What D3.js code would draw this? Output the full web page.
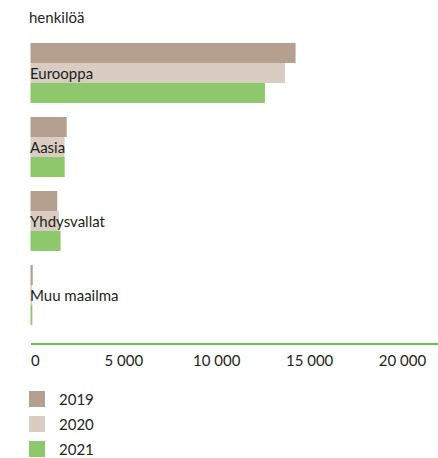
<!DOCTYPE html>
<html><head><meta charset="utf-8">
<script src="https://cdn.jsdelivr.net/npm/d3@7"></script>
<style>body{margin:0;background:#fff}svg{display:block}text{font-family:Lato,"Noto Sans",sans-serif;fill:#231f20}</style>
</head><body><div id="c"></div>
<script>
const categories = ["Eurooppa","Aasia","Yhdysvallat","Muu maailma"];
const years = ["2019","2020","2021"];
const v2019 = [14270, 1950, 1440, 120];
const v2020 = [13700, 1830, 1530, 80];
const v2021 = [12620, 1840, 1620, 100];
const tickValues = [0, 5000, 10000, 15000, 20000];
const colors = ["#b5a090","#d9ccc3","#8dc96c"];
const series = [v2019, v2020, v2021];

const W = 438, H = 458;
const svg = d3.select("#c").append("svg").attr("width", W).attr("height", H);
const x = d3.scaleLinear().domain([0, 20000]).range([30.5, 402]);
const y0 = d3.scaleBand().domain(categories).range([43, 325]).paddingInner(14/74).paddingOuter(0);
const y1 = d3.scaleBand().domain(years).range([0, y0.bandwidth()]);

svg.append("text").attr("x", 29).attr("y", 23).attr("font-size", 15).text("henkilöä");

const g = svg.append("g");
categories.forEach((c, i) => {
  years.forEach((yr, j) => {
    g.append("rect").attr("x", x(0)).attr("y", y0(c) + y1(yr))
      .attr("width", Math.max(0, x(series[j][i]) - x(0))).attr("height", y1.bandwidth())
      .attr("fill", colors[j]);
  });
  g.append("text").attr("x", 30).attr("y", y0(c) + y1("2020") + y1.bandwidth()/2 + 6)
    .attr("font-size", 15).text(c);
});

svg.append("line").attr("x1", 31).attr("x2", W).attr("y1", 344).attr("y2", 344)
  .attr("stroke", "#6cbe45").attr("stroke-width", 2.2);

const axis = d3.axisBottom(x).tickValues(tickValues).tickSize(0).tickPadding(0)
  .tickFormat(d => d3.format(",")(d).replace(/,/g, " "));
const ag = svg.append("g").attr("transform", "translate(0,353)").call(axis);
ag.select(".domain").remove();
ag.selectAll("text").attr("font-size", 15).attr("font-family", "Lato").attr("fill", "#231f20")
  .attr("dy", "0.85em")
  .attr("text-anchor", (d, i) => i === 0 ? "start" : "middle");

const lg = svg.append("g");
years.forEach((yr, j) => {
  lg.append("rect").attr("x", 29).attr("y", 391 + j * 25).attr("width", 16).attr("height", 16).attr("fill", colors[j]);
  lg.append("text").attr("x", 59).attr("y", 405 + j * 25).attr("font-size", 15).text(yr);
});
</script></body></html>
